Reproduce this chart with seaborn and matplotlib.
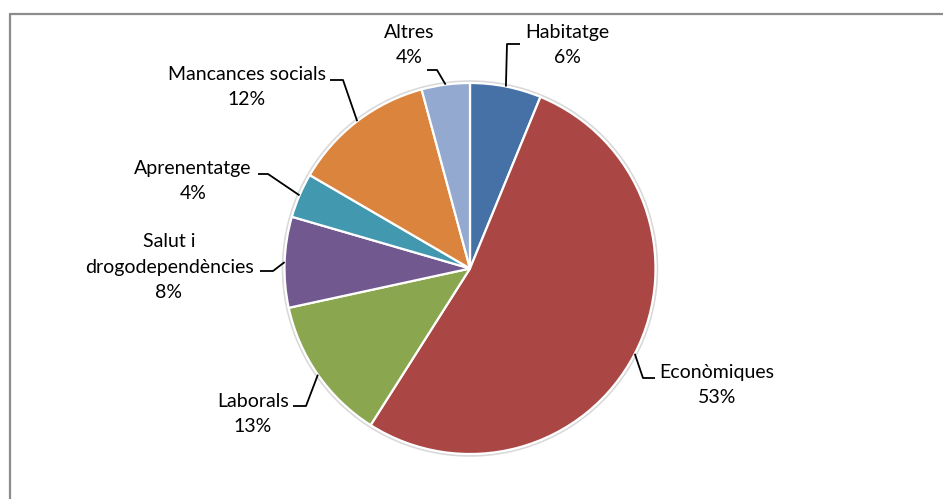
import numpy as np
import matplotlib
matplotlib.use("Agg")
import matplotlib.pyplot as plt
import seaborn as sns
from matplotlib.patches import Circle
from matplotlib.lines import Line2D

# Pie data (clockwise from 12 o'clock)
categories = ["Habitatge", "Econòmiques", "Laborals", "Salut i\ndrogodependències",
              "Aprenentatge", "Mancances socials", "Altres"]
shares = [6.2, 52.8, 12.6, 7.9, 3.9, 12.4, 4.2]
colors = ["#4571A7", "#AA4644", "#8AA64F", "#71588F", "#4298AF", "#DB843D", "#94A9CF"]

# Label layout in pixel coords (y measured from top of image)
label_pos = [(567, 45), (717, 385), (253, 414), (169, 267), (193, 181), (247, 87), (409, 45)]
leader_start = [(520, 44), (655, 378), (293, 406), (260, 271), (258, 174), (330, 80), (427, 70)]
leader_elbow_x = [507, 643, 306, 273, 268, 343, 437]

W, H = 943, 499
CX, CY, R = 470, 268.5, 185.5

sns.set_theme(style="white")
plt.rcParams["font.family"] = ["Lato", "DejaVu Sans"]

fig = plt.figure(figsize=(W / 100, H / 100), dpi=100)
ax = fig.add_axes([0, 0, 1, 1])

# faint shadow ring behind the pie
ax.add_patch(Circle((CX, H - CY), R + 1.8, facecolor="none", edgecolor="#d9d9d9", lw=1.4, zorder=0))

wedges, _ = ax.pie(shares, colors=sns.color_palette(colors), startangle=90, counterclock=False,
                   center=(CX, H - CY), radius=R,
                   wedgeprops=dict(edgecolor="white", linewidth=1.6))

ax.set_xlim(0, W)
ax.set_ylim(0, H)
ax.set_aspect("equal")
ax.axis("off")

for w, name, val, (tx, ty), (sx, sy), ex in zip(wedges, categories, shares, label_pos,
                                                 leader_start, leader_elbow_x):
    mid = np.deg2rad((w.theta1 + w.theta2) / 2)
    px = CX + R * np.cos(mid)
    py = (H - CY) + R * np.sin(mid)
    ax.plot([sx, ex, px], [H - sy, H - sy, py], color="black", lw=1.3, solid_capstyle="butt")
    ax.text(tx, H - ty, f"{name}\n{round(val):d}%", ha="center", va="center",
            multialignment="center", fontsize=14, color="black", linespacing=1.62)

# chart frame (only top and left edges are visible in the crop)
fig.add_artist(Line2D([9.5 / W, 9.5 / W], [0, 1 - 14 / H], transform=fig.transFigure,
                      color="#8c8c8c", lw=1.6))
fig.add_artist(Line2D([9.5 / W, 1], [1 - 14 / H, 1 - 14 / H], transform=fig.transFigure,
                      color="#8c8c8c", lw=1.6))

fig.savefig("out.png", dpi=100)
